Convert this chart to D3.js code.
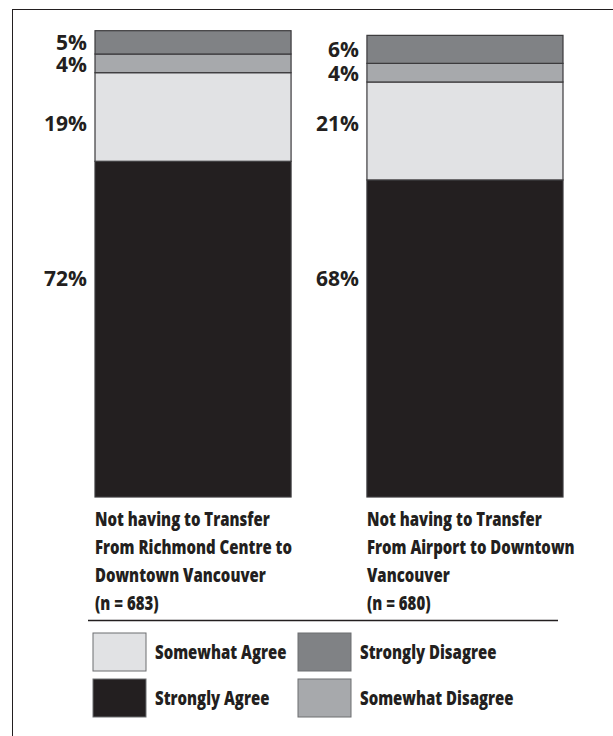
<!DOCTYPE html>
<html>
<head>
<meta charset="utf-8">
<script src="https://cdn.jsdelivr.net/npm/d3@7"></script>
<style>
  html, body { margin: 0; padding: 0; background: #fff; }
  svg { display: block; }
  .pct { font-family: "Open Sans", "Noto Sans", sans-serif; font-weight: 700; font-size: 21px; fill: #231f20; }
  .cat, .leg { font-family: "Open Sans", "Noto Sans", sans-serif; font-weight: 800; font-size: 20px; fill: #231f20; }
</style>
</head>
<body>
<svg id="chart" width="613" height="736"></svg>
<script>
// Survey items (one bar each) and their sample sizes
const categories = ["Richmond Centre", "Airport"];
const categoryLines = [
  ["Not having to Transfer", "From Richmond Centre to", "Downtown Vancouver"],
  ["Not having to Transfer", "From Airport to Downtown", "Vancouver"]
];
const sampleSizes = [683, 680];

// Response shares (%), stacked bottom to top
const series = ["Strongly Agree", "Somewhat Agree", "Somewhat Disagree", "Strongly Disagree"];
const stronglyAgree = [72, 68];
const somewhatAgree = [19, 21];
const somewhatDisagree = [4, 4];
const stronglyDisagree = [5, 6];

// Legend layout order (row by row)
const legendOrder = ["Somewhat Agree", "Strongly Disagree", "Strongly Agree", "Somewhat Disagree"];

const colors = {
  "Strongly Agree": "#231f20",
  "Somewhat Agree": "#e1e2e4",
  "Somewhat Disagree": "#a7a9ac",
  "Strongly Disagree": "#808285"
};

const rows = categories.map((c, i) => ({
  category: c,
  "Strongly Agree": stronglyAgree[i],
  "Somewhat Agree": somewhatAgree[i],
  "Somewhat Disagree": somewhatDisagree[i],
  "Strongly Disagree": stronglyDisagree[i]
}));

const svg = d3.select("#chart");

// Outer frame (runs off the right and bottom edges)
svg.append("rect")
  .attr("x", 12.5).attr("y", 9.5)
  .attr("width", 700).attr("height", 800)
  .attr("fill", "none").attr("stroke", "#231f20").attr("stroke-width", 1);

const x = d3.scaleBand().domain(categories).range([95, 563]).paddingInner(0.279).paddingOuter(0);
const y = d3.scaleLinear().domain([0, 100]).range([497, 30.7]);

const stacked = d3.stack().keys(series)(rows);

// Bars
const layers = svg.append("g").selectAll("g")
  .data(stacked).join("g")
  .attr("fill", d => colors[d.key]);

layers.selectAll("rect")
  .data(d => d.map(p => ({ key: d.key, p })))
  .join("rect")
  .attr("x", d => x(d.p.data.category))
  .attr("y", d => y(d.p[1]))
  .attr("width", x.bandwidth())
  .attr("height", d => y(d.p[0]) - y(d.p[1]))
  .attr("stroke", "#3b3a3c")
  .attr("stroke-width", 1.2);

// Value labels, placed left of each bar
const labelFrac = { "Strongly Agree": 0.33, "Somewhat Agree": 0.5, "Somewhat Disagree": 0.55, "Strongly Disagree": 0.5 };
const sharedKeys = ["Strongly Agree", "Somewhat Agree"];

stacked.forEach(layer => {
  const f = labelFrac[layer.key];
  const posOf = p => y(p[1]) + f * (y(p[0]) - y(p[1]));
  const shared = d3.mean(layer, posOf);
  svg.append("g").selectAll("text")
    .data(layer)
    .join("text")
    .attr("class", "pct")
    .attr("x", p => x(p.data.category) - 8)
    .attr("y", p => (sharedKeys.includes(layer.key) ? shared : posOf(p)) + 7.5)
    .attr("text-anchor", "end")
    .text(p => (p[1] - p[0]) + "%");
});

// Condensed bold text: a horizontal squeeze so the widest caption line spans ~197px
const squeeze = (() => {
  const probe = svg.append("text").attr("class", "cat").text(categoryLines[0][1]);
  const w = probe.node().getComputedTextLength();
  probe.remove();
  return 197 / w;
})();

// Category labels under the bars
categories.forEach((c, i) => {
  const t = svg.append("text")
    .attr("class", "cat")
    .attr("transform", `translate(${x(c)},526) scale(${squeeze},1)`);
  categoryLines[i].concat(["(n = " + sampleSizes[i] + ")"]).forEach((line, j) => {
    t.append("tspan").attr("x", 0).attr("dy", j === 0 ? 0 : 28).text(line);
  });
});

// Separator above the legend
svg.append("line")
  .attr("x1", 88).attr("x2", 558)
  .attr("y1", 620.5).attr("y2", 620.5)
  .attr("stroke", "#231f20").attr("stroke-width", 1.3);

// Legend
const legX = [93, 298];
const legY = [633, 679];
const leg = svg.append("g").selectAll("g")
  .data(legendOrder).join("g")
  .attr("transform", (d, i) => `translate(${legX[i % 2]},${legY[Math.floor(i / 2)]})`);

leg.append("rect")
  .attr("width", 53).attr("height", 38)
  .attr("fill", d => colors[d])
  .attr("stroke", "#6d6e71").attr("stroke-width", 1);

leg.append("text")
  .attr("class", "leg")
  .attr("transform", `translate(62,26) scale(${squeeze},1)`)
  .text(d => d);
</script>
</body>
</html>
